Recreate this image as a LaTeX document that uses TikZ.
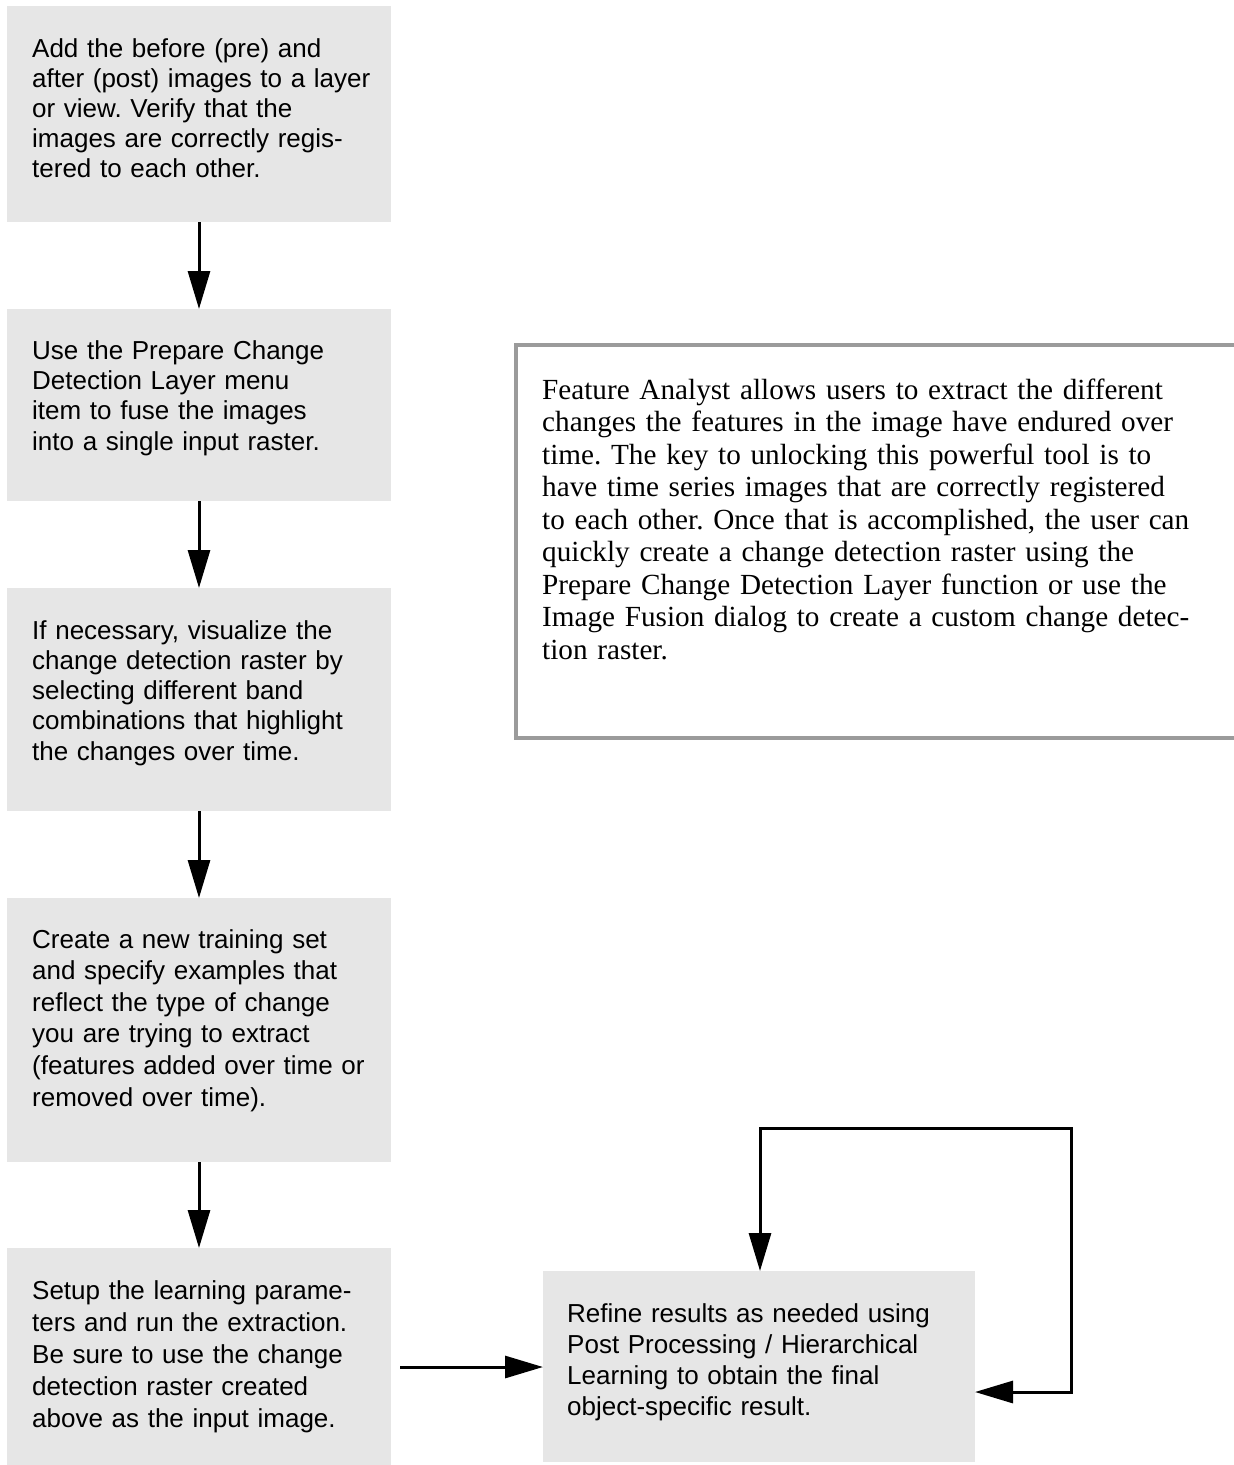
\documentclass[tikz,border=0pt]{standalone}
\usepackage{fontspec}
\setmainfont{Liberation Serif}
\newfontfamily\arialf{Liberation Sans}
\usetikzlibrary{arrows.meta}
\definecolor{boxgray}{RGB}{230,230,230}
\definecolor{framegray}{RGB}{155,155,155}
\frenchspacing
\begin{document}
\frenchspacing
\begin{tikzpicture}[x=1pt,y=-1pt,
  gbox/.style={fill=boxgray, draw=none, inner sep=0pt, outer sep=0pt, anchor=north west},
  btext/.style={font=\arialf\fontsize{26}{#1}\selectfont\frenchspacing, text width=380pt, align=left, inner sep=0pt, anchor=base west},
  stext/.style={font=\fontsize{29.2}{32.5}\selectfont\frenchspacing, text width=700pt, align=left, inner sep=0pt, anchor=base west},
  arr/.style={line width=3pt, -{Triangle[length=38pt,width=22pt]}},
  arrboth/.style={line width=3pt, {Triangle[length=38pt,width=22pt]}-{Triangle[length=38pt,width=22pt]}},
]
\useasboundingbox (0,0) rectangle (1234,1465);

% grey step boxes
\node[gbox, minimum width=384pt, minimum height=216pt] (b1) at (7,6) {};
\node[gbox, minimum width=384pt, minimum height=192pt] (b2) at (7,309) {};
\node[gbox, minimum width=384pt, minimum height=223pt] (b3) at (7,588) {};
\node[gbox, minimum width=384pt, minimum height=264pt] (b4) at (7,898) {};
\node[gbox, minimum width=384pt, minimum height=217pt] (b5) at (7,1248) {};
\node[gbox, minimum width=432pt, minimum height=191pt] (rf) at (543,1271) {};

% texts
\node[btext=30] (t1) at (32,57) {Add the before (pre) and\\after (post) images to a layer\\or view. Verify that the\\images are correctly regis-\\tered to each other.};
\node[btext=30.4] (t2) at (32,359) {Use the Prepare Change\\Detection Layer menu\\item to fuse the images\\into a single input raster.};
\node[btext=30.3] (t3) at (32,639) {If necessary, visualize the\\change detection raster by\\selecting different band\\combinations that highlight\\the changes over time.};
\node[btext=31.6] (t4) at (32,948) {Create a new training set\\and specify examples that\\reflect the type of change\\you are trying to extract\\(features added over time or\\removed over time).};
\node[btext=32] (t5) at (32,1299) {Setup the learning parame-\\ters and run the extraction.\\Be sure to use the change\\detection raster created\\above as the input image.};
\node[btext=31.3] (tr) at (567,1322) {Refine results as needed using\\Post Processing / Hierarchical\\Learning to obtain the final\\object-specific result.};

% description frame
\node[draw=framegray, line width=4pt, fill=none, inner sep=0pt, anchor=north west, minimum width=720pt, minimum height=393pt] (tb) at (514,343) {};
\node[stext] (ts) at (542,399) {Feature Analyst allows users to extract the different\\changes the features in the image have endured over\\time. The key to unlocking this powerful tool is to\\have time series images that are correctly registered\\to each other. Once that is accomplished, the user can\\quickly create a change detection raster using the\\Prepare Change Detection Layer function or use the\\Image Fusion dialog to create a custom change detec-\\tion raster.};

% connectors
\draw[arr] (b1.south) -- (b2.north);
\draw[arr] (b2.south) -- (b3.north);
\draw[arr] (b3.south) -- (b4.north);
\draw[arr] (b4.south) -- (b5.north);

\coordinate (hs) at (400,1367);
\draw[arr] (hs) -- (hs -| rf.west);

\coordinate (lpL) at (760,1128);
\coordinate (lpR) at (1071,1128);
\coordinate (lpB) at (1071,1392);
\draw[arrboth] (rf.north -| lpL) |- (lpR) |- (rf.east |- lpB);
\end{tikzpicture}
\end{document}
